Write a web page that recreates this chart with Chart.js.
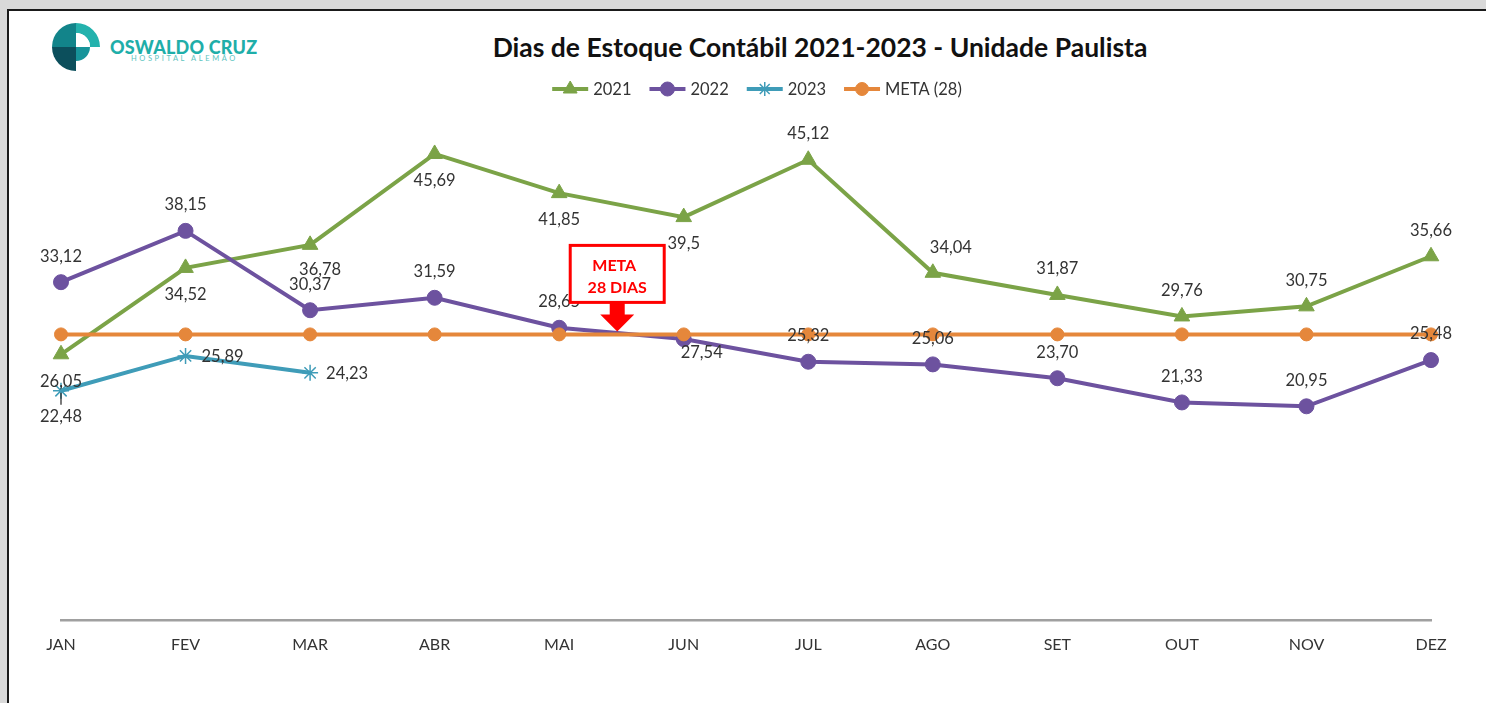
<!DOCTYPE html>
<html lang="pt-BR">
<head>
<meta charset="utf-8">
<title>Dias de Estoque Contábil 2021-2023 - Unidade Paulista</title>
<script src="https://cdn.jsdelivr.net/npm/chart.js"></script>
<style>
  html, body { margin: 0; padding: 0; width: 1486px; height: 703px; overflow: hidden; background: #d9d9d9; font-family: Lato, "Open Sans", sans-serif; }
  #panel { position: absolute; left: 7px; top: 9px; width: 1500px; height: 720px; background: #fff; border-left: 2px solid #1a1a1a; border-top: 2px solid #1a1a1a; }
  #chartWrap { position: absolute; left: 0; top: 0; width: 1486px; height: 703px; }
  #title { position: absolute; top: 31px; left: 420px; width: 800px; text-align: center; font: bold 26.5px Lato, sans-serif; color: #111; white-space: nowrap; }
  #logo { position: absolute; left: 50px; top: 23px; }
  #logoName { position: absolute; left: 110px; top: 36px; font: 900 18px Lato, sans-serif; color: #1faea9; letter-spacing: 0.2px; white-space: nowrap; }
  #logoSub { position: absolute; left: 131px; top: 54px; font: 7.5px Lato, sans-serif; color: #5cc4c0; letter-spacing: 2.6px; white-space: nowrap; }
</style>
</head>
<body>
<div id="panel"></div>
<svg id="logo" width="52" height="48" viewBox="0 0 52 48">
  <path d="M26 24 L26 0 A24 24 0 0 1 50 24 L40 24 A14 14 0 0 0 26 10 Z" fill="#23b2ad"/>
  <path d="M26 24 L2 24 A24 24 0 0 1 26 0 Z" fill="#12848a"/>
  <path d="M26 24 L26 48 A24 24 0 0 1 2 24 Z" fill="#0c4f5c"/>
  <path d="M26 24 L26 10 A14 14 0 0 1 40 24 Z" fill="#ffffff"/>
  <path d="M26 24 L40 24 A14 14 0 0 1 26 38 Z" fill="#17949a"/>
  <circle cx="30" cy="20" r="3.5" fill="#fff"/>
</svg>
<div id="logoName">OSWALDO CRUZ</div>
<div id="logoSub">HOSPITAL ALEMÃO</div>
<div id="title">Dias de Estoque Contábil 2021-2023 - Unidade Paulista</div>
<div id="chartWrap"><canvas id="c" width="1486" height="703"></canvas></div>
<script>
// ---- data ----
const months = ['JAN','FEV','MAR','ABR','MAI','JUN','JUL','AGO','SET','OUT','NOV','DEZ'];
const values2021 = [26.05, 34.52, 36.78, 45.69, 41.85, 39.5, 45.12, 34.04, 31.87, 29.76, 30.75, 35.66];
const values2022 = [33.12, 38.15, 30.37, 31.59, 28.65, 27.54, 25.32, 25.06, 23.70, 21.33, 20.95, 25.48];
const values2023 = [22.48, 25.89, 24.23];
const metaValue = 28;
const metaValues = months.map(() => metaValue);
const seriesNames = ['2021', '2022', '2023', 'META (28)'];

// label placement (a = above, b = below, r = right, br = below-right, ar = above-right)
const labelPos2021 = ['b','b','bx','b','b','b','a','ar','a','a','a','a'];
const labelPos2022 = ['a','a','a','a','a','br','a','a','a','a','a','a'];
const labelPos2023 = ['bl','r','r'];

const fmtGeneral = v => String(v).replace('.', ',');
const fmtFixed2 = v => v.toFixed(2).replace('.', ',');

const C2021 = '#7ba347', C2022 = '#6d529f', C2023 = '#3f9cb8', CMETA = '#e5873b';

const dataLabelPlugin = {
  id: 'dataLabels',
  afterDatasetsDraw(chart) {
    const ctx = chart.ctx;
    ctx.save();
    ctx.font = '16.5px Lato, sans-serif';
    ctx.textBaseline = 'middle';
    chart.data.datasets.forEach((ds, di) => {
      if (!ds.labelPos) return;
      const meta = chart.getDatasetMeta(di);
      meta.data.forEach((pt, i) => {
        const v = ds.data[i];
        if (v == null) return;
        const txt = ds.fmt(v);
        const p = ds.labelPos[i];
        let x = pt.x, y = pt.y, align = 'center';
        if (p === 'a') { y -= 26; }
        else if (p === 'ar') { y -= 25; x += 18; }
        else if (p === 'b') { y += 27; }
        else if (p === 'bx') { y += 25; x += 10; }
        else if (p === 'br') { y += 14; x += 18; }
        else if (p === 'r') { x += 16; align = 'left'; y += 1; }
        else if (p === 'bl') {
          y += 26;
          ctx.save(); ctx.strokeStyle = '#222'; ctx.lineWidth = 1.2;
          ctx.beginPath(); ctx.moveTo(pt.x, pt.y + 2); ctx.lineTo(pt.x, pt.y + 14); ctx.stroke(); ctx.restore();
        }
        ctx.fillStyle = '#333333';
        ctx.textAlign = align;
        ctx.fillText(txt, x, y);
      });
    });
    ctx.restore();
  }
};

const legendPlugin = {
  id: 'customLegend',
  afterDraw(chart) {
    const ctx = chart.ctx;
    ctx.save();
    ctx.font = '16.5px Lato, sans-serif';
    const lineW = 36, gapText = 5, gapItem = 18;
    const items = chart.data.datasets.map(ds => ({ ds, w: lineW + gapText + ctx.measureText(ds.label).width }));
    const total = items.reduce((s, it) => s + it.w, 0) + gapItem * (items.length - 1);
    const ca = chart.chartArea;
    let x = (ca.left + ca.right) / 2 + 11 - total / 2;
    const y = 89;
    items.forEach(({ ds, w }) => {
      ctx.strokeStyle = ds.borderColor; ctx.lineWidth = 4;
      ctx.beginPath(); ctx.moveTo(x, y); ctx.lineTo(x + lineW, y); ctx.stroke();
      ctx.fillStyle = ds.borderColor;
      ctx.strokeStyle = ds.borderColor;
      ctx.lineWidth = ds.pointBorderWidth;
      Chart.helpers.drawPoint(ctx, { pointStyle: ds.pointStyle, radius: ds.legendRadius, borderWidth: ds.pointBorderWidth, rotation: 0 }, x + lineW / 2, y);
      ctx.fillStyle = '#333333';
      ctx.textAlign = 'left'; ctx.textBaseline = 'middle';
      ctx.fillText(ds.label, x + lineW + gapText, y + 1);
      x += w + gapItem;
    });
    ctx.restore();
  }
};

const metaCallout = {
  id: 'metaCallout',
  afterDatasetsDraw(chart) {
    const ctx = chart.ctx;
    const xs = chart.scales.x, ys = chart.scales.y;
    const cx = xs.getPixelForValue(4.466);
    const tipY = ys.getPixelForValue(metaValue) - 3;
    ctx.save();
    ctx.fillStyle = '#ff0000';
    ctx.beginPath();
    ctx.moveTo(cx, tipY);
    ctx.lineTo(cx - 17, tipY - 17);
    ctx.lineTo(cx - 7.5, tipY - 17);
    ctx.lineTo(cx - 7.5, tipY - 29);
    ctx.lineTo(cx + 7.5, tipY - 29);
    ctx.lineTo(cx + 7.5, tipY - 17);
    ctx.lineTo(cx + 17, tipY - 17);
    ctx.closePath();
    ctx.fill();
    const bw = 94, bh = 57, bx = cx - bw / 2, by = tipY - 29 - bh;
    ctx.fillStyle = '#fff';
    ctx.fillRect(bx, by, bw, bh);
    ctx.strokeStyle = '#ff0000'; ctx.lineWidth = 3;
    ctx.strokeRect(bx, by, bw, bh);
    ctx.fillStyle = '#ff0000';
    ctx.font = 'bold 16px Lato, sans-serif';
    ctx.textAlign = 'center'; ctx.textBaseline = 'middle';
    ctx.fillText('META', cx - 3, by + 20);
    ctx.fillText('28 DIAS', cx, by + 42);
    ctx.restore();
  }
};

new Chart(document.getElementById('c'), {
  type: 'line',
  data: {
    labels: months,
    datasets: [
      { label: seriesNames[0], data: values2021, borderColor: C2021, backgroundColor: C2021, borderWidth: 4,
        pointStyle: 'triangle', pointRadius: 9, legendRadius: 8, pointBorderWidth: 1, pointBackgroundColor: C2021, pointBorderColor: C2021,
        order: 4, labelPos: labelPos2021, fmt: fmtGeneral },
      { label: seriesNames[1], data: values2022, borderColor: C2022, backgroundColor: C2022, borderWidth: 4,
        pointStyle: 'circle', pointRadius: 7.5, legendRadius: 7, pointBorderWidth: 1, pointBackgroundColor: C2022, pointBorderColor: C2022,
        order: 3, labelPos: labelPos2022, fmt: fmtFixed2 },
      { label: seriesNames[2], data: values2023, borderColor: C2023, backgroundColor: C2023, borderWidth: 4,
        pointStyle: 'star', pointRadius: 8, legendRadius: 7, pointBorderWidth: 1.5, pointBackgroundColor: C2023, pointBorderColor: C2023,
        order: 2, labelPos: labelPos2023, fmt: fmtFixed2 },
      { label: seriesNames[3], data: metaValues, borderColor: CMETA, backgroundColor: CMETA, borderWidth: 4,
        pointStyle: 'circle', pointRadius: 6.5, legendRadius: 6.5, pointBorderWidth: 1, pointBackgroundColor: CMETA, pointBorderColor: CMETA,
        order: 1 }
    ]
  },
  options: {
    responsive: false,
    animation: false,
    devicePixelRatio: 1,
    layout: { padding: { left: 61, right: 55, top: 110, bottom: 0 } },
    plugins: { legend: { display: false }, title: { display: false }, tooltip: { enabled: false } },
    elements: { line: { tension: 0 } },
    scales: {
      x: {
        offset: false,
        grid: { display: false, drawTicks: false },
        border: { display: true, color: '#a0a0a0', width: 2.5 },
        ticks: { color: '#333333', font: { family: 'Lato', size: 16 }, padding: 15, maxRotation: 0, autoSkip: false },
        afterFit(scale) { scale.height = 83; }
      },
      y: { display: false, min: 0, max: 50 }
    }
  },
  plugins: [dataLabelPlugin, metaCallout, legendPlugin]
});
</script>
</body>
</html>
